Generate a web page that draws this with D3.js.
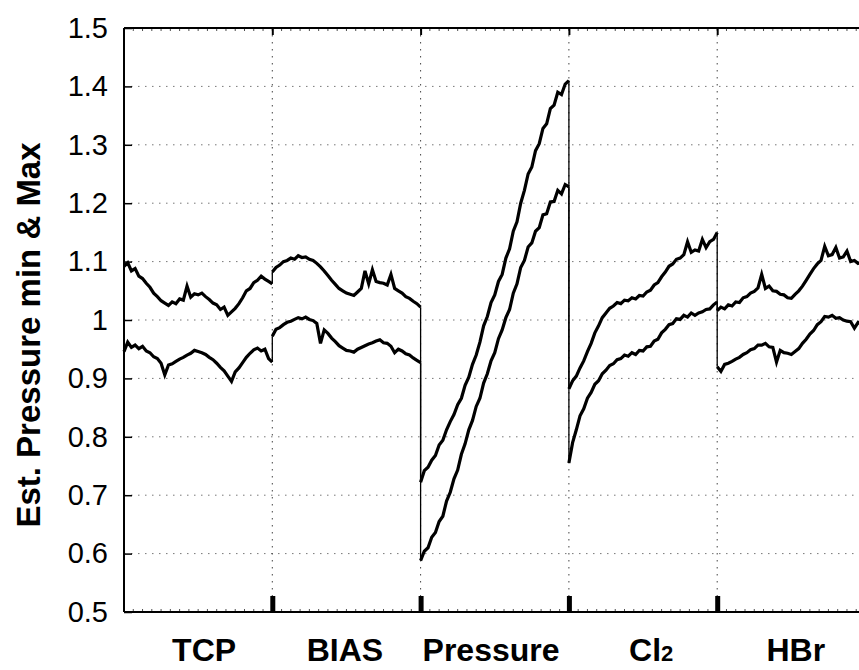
<!DOCTYPE html>
<html>
<head>
<meta charset="utf-8">
<script src="https://cdn.jsdelivr.net/npm/d3@7"></script>
<style>
  html, body { margin: 0; padding: 0; background: #fff; }
  svg { display: block; font-family: "Liberation Sans", Arial, Helvetica, sans-serif; }
</style>
</head>
<body>
<div id="chart"></div>
<script>
// step names along the x axis, and where each name sits (in step units)
const stepNames = ['TCP', 'BIAS', 'Pressure', 'Cl2', 'HBr'];
const labelAt = [0.54, 1.49, 2.475, 3.555, 4.53];

// sample positions inside one step (0 = start, 1 = end)
const samplePos = [0, 0.025, 0.05, 0.075, 0.1, 0.125, 0.15, 0.175, 0.2, 0.225,
  0.25, 0.275, 0.3, 0.325, 0.35, 0.375, 0.4, 0.425, 0.45, 0.475,
  0.5, 0.525, 0.55, 0.575, 0.6, 0.625, 0.65, 0.675, 0.7, 0.725,
  0.75, 0.775, 0.8, 0.825, 0.85, 0.875, 0.9, 0.925, 0.95, 0.975, 1];

// estimated pressure, Max trace (noise included)
const maxTCP = [1.092, 1.098, 1.084, 1.088, 1.075, 1.071, 1.063, 1.056, 1.046, 1.040,
  1.033, 1.029, 1.025, 1.031, 1.028, 1.036, 1.034, 1.058, 1.039, 1.045,
  1.043, 1.046, 1.040, 1.035, 1.029, 1.026, 1.018, 1.022, 1.008, 1.014,
  1.020, 1.028, 1.038, 1.050, 1.054, 1.064, 1.068, 1.075, 1.070, 1.066, 1.062];
const maxBIAS = [1.082, 1.090, 1.094, 1.100, 1.102, 1.106, 1.104, 1.110, 1.107, 1.108,
  1.104, 1.102, 1.097, 1.091, 1.084, 1.076, 1.068, 1.061, 1.054, 1.050,
  1.046, 1.044, 1.042, 1.048, 1.054, 1.084, 1.062, 1.086, 1.066, 1.064,
  1.063, 1.060, 1.078, 1.054, 1.050, 1.046, 1.040, 1.037, 1.032, 1.028, 1.022];
const maxPressure = [0.722, 0.742, 0.748, 0.760, 0.768, 0.786, 0.794, 0.812, 0.826, 0.838,
  0.855, 0.866, 0.888, 0.902, 0.924, 0.940, 0.962, 0.990, 1.006, 1.030,
  1.043, 1.066, 1.078, 1.106, 1.122, 1.152, 1.168, 1.200, 1.222, 1.250,
  1.262, 1.290, 1.302, 1.328, 1.336, 1.362, 1.368, 1.390, 1.386, 1.404, 1.410];
const maxCl2 = [0.882, 0.896, 0.904, 0.918, 0.930, 0.946, 0.960, 0.978, 0.990, 1.004,
  1.012, 1.020, 1.024, 1.030, 1.028, 1.034, 1.033, 1.038, 1.036, 1.042,
  1.041, 1.048, 1.051, 1.060, 1.064, 1.074, 1.082, 1.092, 1.096, 1.104,
  1.106, 1.112, 1.134, 1.116, 1.120, 1.118, 1.138, 1.124, 1.134, 1.138, 1.150];
const maxHBr = [1.016, 1.022, 1.019, 1.026, 1.024, 1.031, 1.030, 1.038, 1.040, 1.046,
  1.049, 1.055, 1.078, 1.054, 1.058, 1.050, 1.049, 1.044, 1.043, 1.038,
  1.037, 1.044, 1.050, 1.058, 1.068, 1.078, 1.088, 1.096, 1.102, 1.126,
  1.110, 1.112, 1.124, 1.106, 1.108, 1.118, 1.100, 1.102, 1.097, 1.099, 1.094];

// estimated pressure, min trace
const minTCP = [0.946, 0.962, 0.953, 0.957, 0.951, 0.955, 0.947, 0.944, 0.937, 0.934,
  0.926, 0.906, 0.923, 0.925, 0.929, 0.933, 0.936, 0.940, 0.943, 0.948,
  0.946, 0.944, 0.941, 0.936, 0.932, 0.926, 0.919, 0.913, 0.904, 0.895,
  0.911, 0.918, 0.927, 0.936, 0.943, 0.949, 0.952, 0.947, 0.950, 0.934, 0.928];
const minBIAS = [0.972, 0.984, 0.987, 0.992, 0.996, 0.998, 1.001, 1.004, 1.002, 1.005,
  1.001, 0.999, 0.994, 0.960, 0.983, 0.977, 0.969, 0.963, 0.956, 0.952,
  0.948, 0.947, 0.945, 0.950, 0.953, 0.956, 0.959, 0.961, 0.964, 0.966,
  0.961, 0.960, 0.955, 0.944, 0.950, 0.947, 0.942, 0.940, 0.935, 0.931, 0.927];
const minPressure = [0.588, 0.604, 0.610, 0.628, 0.636, 0.655, 0.664, 0.690, 0.705, 0.728,
  0.743, 0.770, 0.788, 0.812, 0.828, 0.852, 0.866, 0.892, 0.908, 0.930,
  0.944, 0.968, 0.983, 1.004, 1.018, 1.046, 1.062, 1.090, 1.102, 1.125,
  1.132, 1.152, 1.158, 1.180, 1.182, 1.202, 1.203, 1.222, 1.216, 1.232, 1.228];
const minCl2 = [0.755, 0.790, 0.812, 0.836, 0.848, 0.866, 0.876, 0.890, 0.896, 0.908,
  0.914, 0.922, 0.925, 0.932, 0.934, 0.940, 0.938, 0.944, 0.941, 0.948,
  0.947, 0.954, 0.955, 0.964, 0.967, 0.978, 0.984, 0.992, 0.994, 1.002,
  1.001, 1.008, 1.005, 1.012, 1.008, 1.012, 1.014, 1.018, 1.019, 1.026, 1.031];
const minHBr = [0.920, 0.912, 0.924, 0.926, 0.929, 0.933, 0.936, 0.941, 0.944, 0.949,
  0.951, 0.957, 0.957, 0.960, 0.954, 0.953, 0.928, 0.948, 0.944, 0.943,
  0.941, 0.946, 0.951, 0.960, 0.967, 0.976, 0.982, 0.992, 0.997, 1.006,
  1.005, 1.008, 1.003, 1.004, 1.000, 0.998, 0.997, 0.986, 0.996, 0.992, 0.993];

const yTicks = [0.5, 0.6, 0.7, 0.8, 0.9, 1, 1.1, 1.2, 1.3, 1.4, 1.5];
const stepBounds = [1, 2, 3, 4];

const maxSteps = [maxTCP, maxBIAS, maxPressure, maxCl2, maxHBr];
const minSteps = [minTCP, minBIAS, minPressure, minCl2, minHBr];

const width = 859;
const height = 670;
const plotLeft = 124;
const plotTop = 28;
const plotBottom = 612;
const stepWidth = 148.3;

const x = d3.scaleLinear()
  .domain([0, stepNames.length])
  .range([plotLeft, plotLeft + stepWidth * stepNames.length]);
const y = d3.scaleLinear()
  .domain([0.5, 1.5])
  .range([plotBottom, plotTop]);

const svg = d3.select('#chart').append('svg')
  .attr('width', width)
  .attr('height', height);

// grid
const grid = svg.append('g').attr('class', 'grid');
grid.selectAll('.hgrid')
  .data(yTicks.filter((d) => d > 0.5 && d < 1.5))
  .enter()
  .append('line')
  .attr('x1', x(0))
  .attr('x2', x(stepNames.length))
  .attr('y1', (d) => y(d))
  .attr('y2', (d) => y(d))
  .attr('stroke', '#777')
  .attr('stroke-width', 1)
  .attr('stroke-dasharray', '1.5,5.5');
grid.selectAll('.vgrid')
  .data(stepBounds)
  .enter()
  .append('line')
  .attr('x1', (d) => x(d))
  .attr('x2', (d) => x(d))
  .attr('y1', y(1.5))
  .attr('y2', y(0.5))
  .attr('stroke', '#444')
  .attr('stroke-width', 1)
  .attr('stroke-dasharray', '1.5,5.5');

// traces
const line = d3.line()
  .x((d) => x(d[0]))
  .y((d) => y(d[1]));

const traces = svg.append('g').attr('class', 'traces');
[maxSteps, minSteps].forEach((steps) => {
  steps.forEach((vals, k) => {
    const pts = samplePos.map((t, i) => [k + t, vals[i]]);
    traces.append('path')
      .attr('d', line(pts))
      .attr('fill', 'none')
      .attr('stroke', '#000')
      .attr('stroke-width', 3.2);
    // jump to the next step
    if (k < steps.length - 1) {
      traces.append('line')
        .attr('x1', x(k + 1))
        .attr('x2', x(k + 1))
        .attr('y1', y(vals[vals.length - 1]))
        .attr('y2', y(steps[k + 1][0]))
        .attr('stroke', '#000')
        .attr('stroke-width', 1.3);
    }
  });
});

// frame
const frame = svg.append('g').attr('class', 'frame');
frame.append('line')
  .attr('x1', x(0)).attr('x2', x(0))
  .attr('y1', y(1.5)).attr('y2', y(0.5))
  .attr('stroke', '#000').attr('stroke-width', 2);
frame.append('line')
  .attr('x1', x(0)).attr('x2', x(stepNames.length))
  .attr('y1', y(1.5)).attr('y2', y(1.5))
  .attr('stroke', '#000').attr('stroke-width', 2);
frame.append('line')
  .attr('x1', x(0)).attr('x2', x(stepNames.length))
  .attr('y1', y(0.5)).attr('y2', y(0.5))
  .attr('stroke', '#000').attr('stroke-width', 2);

// y axis
const yAxis = svg.append('g')
  .attr('transform', `translate(${plotLeft},0)`)
  .call(d3.axisLeft(y)
    .tickValues(yTicks)
    .tickSize(-8)
    .tickSizeOuter(0)
    .tickPadding(16)
    .tickFormat((d) => String(d)));
yAxis.select('.domain').remove();
yAxis.selectAll('.tick line').attr('stroke-width', 1.5);
yAxis.selectAll('.tick text')
  .style('font-size', '29px')
  .style('font-family', '"Liberation Sans", Arial, sans-serif')
  .attr('fill', '#000');

// minor ticks along top and bottom
const minorTicks = d3.range(0, stepNames.length * 16 + 1).map((i) => i / 16);
frame.selectAll('.minor-b')
  .data(minorTicks)
  .enter()
  .append('line')
  .attr('x1', (d) => x(d)).attr('x2', (d) => x(d))
  .attr('y1', y(0.5)).attr('y2', y(0.5) - 3)
  .attr('stroke', '#000').attr('stroke-width', 0.7);
frame.selectAll('.minor-t')
  .data(minorTicks)
  .enter()
  .append('line')
  .attr('x1', (d) => x(d)).attr('x2', (d) => x(d))
  .attr('y1', y(1.5)).attr('y2', y(1.5) + 3)
  .attr('stroke', '#000').attr('stroke-width', 0.7);

// step boundary ticks
const xBottom = svg.append('g')
  .attr('transform', `translate(0,${plotBottom})`)
  .call(d3.axisBottom(x)
    .tickValues(stepBounds)
    .tickSize(-16)
    .tickSizeOuter(0)
    .tickFormat(''));
xBottom.select('.domain').remove();
xBottom.selectAll('.tick line').attr('stroke-width', 5);

const xTop = svg.append('g')
  .attr('transform', `translate(0,${plotTop})`)
  .call(d3.axisTop(x)
    .tickValues(stepBounds)
    .tickSize(-7)
    .tickSizeOuter(0)
    .tickFormat(''));
xTop.select('.domain').remove();
xTop.selectAll('.tick line').attr('stroke-width', 2);

// step labels
const labels = svg.append('g').attr('class', 'step-labels');
stepNames.forEach((name, i) => {
  const t = labels.append('text')
    .attr('x', x(labelAt[i]))
    .attr('y', 661)
    .attr('text-anchor', 'middle')
    .style('font-size', '32px')
    .style('font-weight', 'bold')
    .attr('fill', '#000');
  const m = name.match(/^(\D+)(\d+)$/);
  if (m) {
    t.append('tspan').text(m[1]);
    t.append('tspan')
      .attr('dy', 0)
      .style('font-size', '22px')
      .text(m[2]);
  } else {
    t.text(name);
  }
});

// y label
svg.append('text')
  .attr('transform', 'translate(40,335) rotate(-90)')
  .attr('text-anchor', 'middle')
  .style('font-size', '33px')
  .style('font-weight', 'bold')
  .attr('fill', '#000')
  .text('Est. Pressure min & Max');
</script>
</body>
</html>
